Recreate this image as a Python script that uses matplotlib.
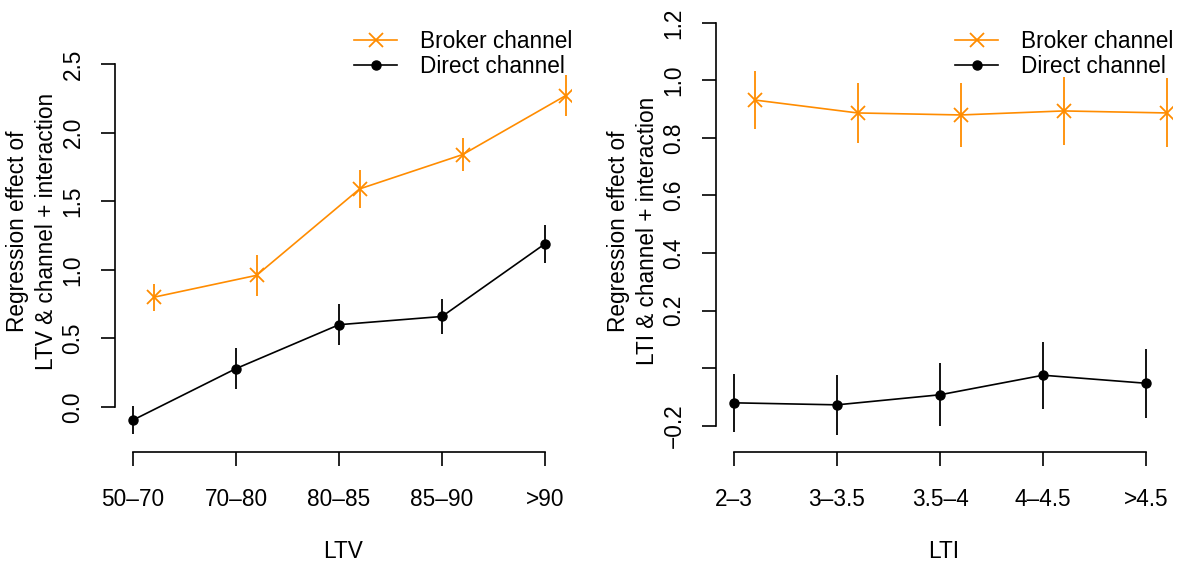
import numpy as np
import matplotlib
matplotlib.use("Agg")
import matplotlib.pyplot as plt

plt.rcParams['font.family'] = ['Liberation Sans', 'DejaVu Sans']
plt.rcParams['font.size'] = 16.3

# LTV panel
ltv_labels = ["50–70", "70–80", "80–85", "85–90", ">90"]
ltv_broker = [0.80, 0.96, 1.59, 1.84, 2.27]
ltv_broker_err = [0.10, 0.15, 0.14, 0.12, 0.15]
ltv_direct = [-0.095, 0.28, 0.60, 0.66, 1.19]
ltv_direct_err = [0.10, 0.15, 0.15, 0.13, 0.14]

# LTI panel
lti_labels = ["2–3", "3–3.5", "3.5–4", "4–4.5", ">4.5"]
lti_broker = [0.932, 0.887, 0.88, 0.894, 0.887]
lti_broker_err = [0.10, 0.105, 0.11, 0.117, 0.12]
lti_direct = [-0.121, -0.128, -0.093, -0.025, -0.053]
lti_direct_err = [0.10, 0.105, 0.11, 0.117, 0.12]

ORANGE = "#FF8C00"
W, H = 1181, 563
fig = plt.figure(figsize=(W / 100, H / 100), dpi=100)


def panel(left_px, labels, broker, berr, direct, derr, ylim, yticks, ytick_labels, xlabel, ylabel):
    ax = fig.add_axes([left_px / W, (H - 452) / H, 456 / W, 442 / H])
    x = np.arange(1, len(labels) + 1)
    xb = x + 0.2
    # error bars
    ax.vlines(xb, np.array(broker) - berr, np.array(broker) + berr, color=ORANGE, lw=1.3)
    ax.vlines(x, np.array(direct) - derr, np.array(direct) + derr, color="black", lw=1.3)
    ax.plot(xb, broker, color=ORANGE, lw=1.2, marker="x", ms=10, mew=1.3, label="Broker channel")
    ax.plot(x, direct, color="black", lw=1.2, marker="o", ms=6.5, label="Direct channel")

    ax.set_xlim(0.825, 5.252)
    ax.set_ylim(*ylim)
    for s in ["top", "right"]:
        ax.spines[s].set_visible(False)
    ax.spines["left"].set_bounds(yticks[0], yticks[-1])
    ax.spines["bottom"].set_bounds(1, 5)
    ax.set_xticks(x)
    ax.set_xticklabels(labels)
    ax.set_yticks(yticks)
    ax.set_yticklabels(ytick_labels, rotation=90, va="center")
    ax.tick_params(axis="x", length=10, width=1.2, pad=16)
    ax.tick_params(axis="y", length=10, width=1.2, pad=12)
    for s in ["left", "bottom"]:
        ax.spines[s].set_linewidth(1.2)
    ax.set_xlabel(xlabel, labelpad=21)
    ax.set_ylabel(ylabel, linespacing=1.3)
    ax.yaxis.set_label_coords(-0.126, 0.5)
    ax.legend(loc="upper right", bbox_to_anchor=(1.0 + 15 / 456, 1.0 - 6 / 442), frameon=False,
              handlelength=1.9, handletextpad=1.0, labelspacing=0.1,
              borderaxespad=0.3, borderpad=0.3)
    return ax


panel(115, ltv_labels, ltv_broker, ltv_broker_err, ltv_direct, ltv_direct_err,
      (-0.328, 2.894), [0.0, 0.5, 1.0, 1.5, 2.0, 2.5],
      ["0.0", "0.5", "1.0", "1.5", "2.0", "2.5"],
      "LTV", "Regression effect of\nLTV & channel + interaction")

panel(716, lti_labels, lti_broker, lti_broker_err, lti_direct, lti_direct_err,
      (-0.292, 1.245), [-0.2, 0.0, 0.2, 0.4, 0.6, 0.8, 1.0, 1.2],
      ["−0.2", "", "0.2", "0.4", "0.6", "0.8", "1.0", "1.2"],
      "LTI", "Regression effect of\nLTI & channel + interaction")

fig.savefig("out.png", dpi=100)
